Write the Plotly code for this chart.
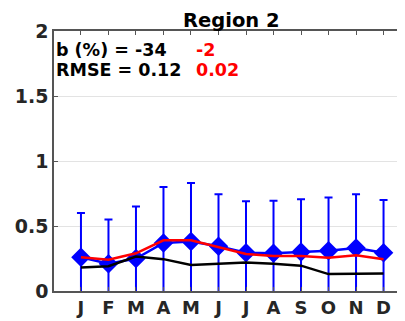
import plotly.graph_objects as go

months = ["J", "F", "M", "A", "M", "J", "J", "A", "S", "O", "N", "D"]
month_idx = list(range(1, 13))

obs_mean = [0.26, 0.21, 0.25, 0.37, 0.38, 0.345, 0.295, 0.29, 0.30, 0.31, 0.33, 0.295]
obs_top = [0.60, 0.55, 0.65, 0.80, 0.83, 0.745, 0.69, 0.695, 0.705, 0.72, 0.745, 0.70]
obs_err = [t - m for t, m in zip(obs_top, obs_mean)]
model_a = [0.18, 0.19, 0.265, 0.245, 0.20, 0.21, 0.22, 0.21, 0.195, 0.13, 0.13, 0.135]
model_b = [0.26, 0.24, 0.29, 0.39, 0.39, 0.335, 0.285, 0.27, 0.27, 0.255, 0.275, 0.245]

title_text = "Region 2"
stats_labels = ["b (%) = -34", "RMSE = 0.12"]
stats_red = ["-2", "0.02"]

font = "DejaVu Sans"

fig = go.Figure()
fig.add_trace(go.Scatter(
    x=month_idx, y=obs_mean, mode="lines+markers",
    line=dict(color="#0000ff", width=2.5),
    marker=dict(symbol="diamond", size=15, color="#0000ff"),
    error_y=dict(type="data", array=obs_err, symmetric=True,
                 color="#0000ff", thickness=2, width=4),
    showlegend=False))
fig.add_trace(go.Scatter(
    x=month_idx, y=model_a, mode="lines",
    line=dict(color="#000000", width=2.5), showlegend=False))
fig.add_trace(go.Scatter(
    x=month_idx, y=model_b, mode="lines",
    line=dict(color="#ff0000", width=2.5), showlegend=False))

# page body has an 8px margin: figure occupies x 8..405, y 8..321
fig.update_layout(
    width=397, height=313,
    margin=dict(l=46, r=0, t=23, b=30, autoexpand=False),
    paper_bgcolor="white", plot_bgcolor="white",
    font=dict(family=font, color="#222222"),
    xaxis=dict(range=[0.02, 12.78], tickvals=month_idx, ticktext=months,
               tickfont=dict(family=font, size=18, color="#262626", weight="bold"),
               showgrid=False, zeroline=False, showline=True, linecolor="#555555",
               linewidth=1.5, mirror="ticks", ticks="inside", ticklen=4,
               tickcolor="#555555", automargin=False),
    yaxis=dict(range=[0, 2], tickvals=[0, 0.5, 1, 1.5, 2],
               ticktext=["0", "0.5", "1", "1.5", "2"],
               tickfont=dict(family=font, size=19, color="#262626", weight="bold"),
               showgrid=True, gridcolor="#e3e3e3", gridwidth=1,
               zeroline=False, showline=True, linecolor="#555555", linewidth=1.5,
               ticks="inside", ticklen=4, tickcolor="#555555", automargin=False),
)

fig.add_annotation(text=title_text, xref="paper", yref="paper",
                   x=0.507, y=1.0, yshift=11, xanchor="center", yanchor="middle",
                   showarrow=False, borderpad=0,
                   font=dict(family=font, size=19.5, color="#000000", weight="bold"))
for i, (lab, red) in enumerate(zip(stats_labels, stats_red)):
    ypx = 50 + i * 20
    yv = 1 - (ypx - 31) / 260
    fig.add_annotation(text=lab, xref="paper", yref="paper", x=0.0, y=yv,
                       xanchor="left", yanchor="middle", showarrow=False,
                       font=dict(family=font, size=17.5, color="#000000", weight="bold"))
    fig.add_annotation(text=red, xref="paper", yref="paper", x=(194 - 54) / 351, y=yv,
                       xanchor="left", yanchor="middle", showarrow=False,
                       font=dict(family=font, size=17.5, color="#ff0000", weight="bold"))

fig.write_html("out.html")
